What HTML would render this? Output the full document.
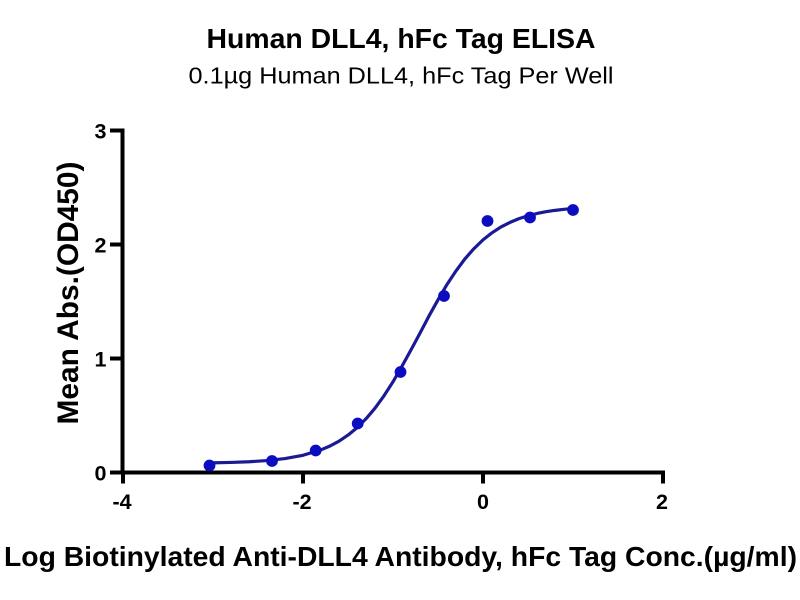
<!DOCTYPE html>
<html>
<head>
<meta charset="utf-8">
<style>
  html,body{margin:0;padding:0;background:#fff;}
  svg{display:block;}
  text{font-family:"Liberation Sans",Arial,sans-serif;fill:#000;}
</style>
</head>
<body>
<svg width="800" height="600" viewBox="0 0 800 600" xmlns="http://www.w3.org/2000/svg">
  <rect width="800" height="600" fill="#fff"/>
  <!-- Titles -->
  <text x="401" y="48" font-size="28" font-weight="bold" text-anchor="middle" textLength="389" lengthAdjust="spacingAndGlyphs">Human DLL4, hFc Tag ELISA</text>
  <text x="401" y="83.5" font-size="23.5" text-anchor="middle" textLength="425" lengthAdjust="spacingAndGlyphs">0.1µg Human DLL4, hFc Tag Per Well</text>

  <!-- Axes -->
  <g stroke="#000" stroke-width="4" fill="none" stroke-linecap="butt">
    <line x1="122.5" y1="128.5" x2="122.5" y2="474.5"/>
    <line x1="120.5" y1="472.5" x2="665" y2="472.5"/>
    <!-- y ticks -->
    <line x1="110" y1="130.5" x2="122.5" y2="130.5"/>
    <line x1="110" y1="244.5" x2="122.5" y2="244.5"/>
    <line x1="110" y1="358.5" x2="122.5" y2="358.5"/>
    <line x1="110" y1="472.5" x2="122.5" y2="472.5"/>
    <!-- x ticks -->
    <line x1="123" y1="472.5" x2="123" y2="483.5"/>
    <line x1="303" y1="472.5" x2="303" y2="483.5"/>
    <line x1="483" y1="472.5" x2="483" y2="483.5"/>
    <line x1="663" y1="470.5" x2="663" y2="483.5"/>
  </g>

  <!-- y tick labels -->
  <g font-size="21.5" font-weight="bold" text-anchor="end">
    <text x="106.5" y="138.5">3</text>
    <text x="106.5" y="252.5">2</text>
    <text x="106.5" y="366.5">1</text>
    <text x="106.5" y="480.5">0</text>
  </g>
  <!-- x tick labels -->
  <g font-size="21.5" font-weight="bold" text-anchor="middle">
    <text x="122" y="509">-4</text>
    <text x="302" y="509">-2</text>
    <text x="483" y="509">0</text>
    <text x="662" y="509">2</text>
  </g>

  <!-- Axis titles -->
  <text transform="translate(78,293) rotate(-90)" font-size="30" font-weight="bold" text-anchor="middle" textLength="263" lengthAdjust="spacingAndGlyphs">Mean Abs.(OD450)</text>
  <text x="4" y="566" font-size="27.5" font-weight="bold" textLength="793" lengthAdjust="spacingAndGlyphs">Log Biotinylated Anti-DLL4 Antibody, hFc Tag Conc.(µg/ml)</text>

  <!-- Fitted curve -->
  <polyline fill="none" stroke="#1a1a94" stroke-width="3.2" stroke-linejoin="round" stroke-linecap="round"
    points="210.3,462.9 231,462.45 249,461.75 267,460.56 285,458.57 303,455.27 321,449.84 330,446.0 339,441.17 348,435.1 357,427.75 366,418.8 375,408.16 384,395.8 393,381.79 402,366.2 411,349.87 420,333.1 429,315.95 438,299.8 447,284.47 456,270.9 465,258.76 474,248.6 483,239.84 492,232.8 501,226.94 510,222.4 519,218.66 528,215.8 537,213.49 546,211.7 555,210.35 564,209.3 573,208.46"/>

  <!-- Data points -->
  <g fill="#0c0cc0">
    <circle cx="209.5" cy="465.5" r="5.9"/>
    <circle cx="272" cy="461" r="5.9"/>
    <circle cx="315.7" cy="450.5" r="5.9"/>
    <circle cx="357.7" cy="423.5" r="5.9"/>
    <circle cx="400.5" cy="372" r="5.9"/>
    <circle cx="444" cy="296" r="5.9"/>
    <circle cx="487.5" cy="221" r="5.9"/>
    <circle cx="530" cy="217.5" r="5.9"/>
    <circle cx="573" cy="210" r="5.9"/>
  </g>
</svg>
</body>
</html>
